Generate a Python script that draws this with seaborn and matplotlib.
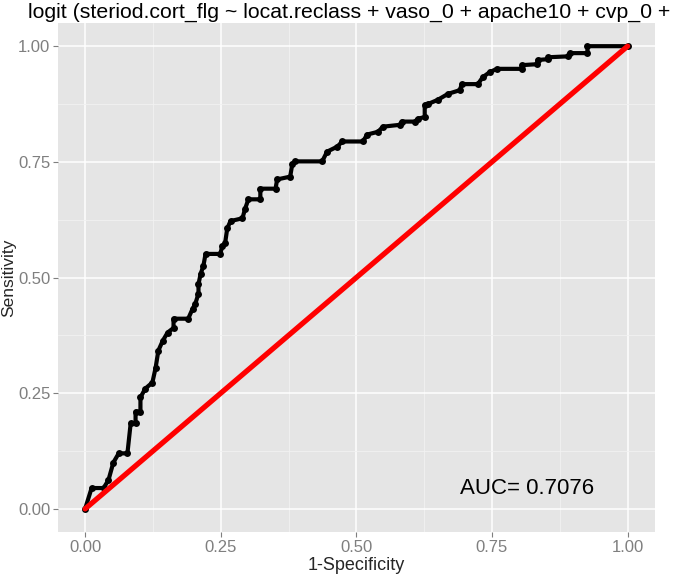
#ROC curve - logistic model for steroid use

import pandas as pd
import matplotlib.pyplot as plt
import seaborn as sns

sns.set_theme(style="darkgrid")
plt.rcParams.update({"font.family": ["Liberation Sans", "DejaVu Sans"]})

#DATA
fpr = [0, 0.012, 0.034, 0.043, 0.052, 0.062, 0.078, 0.084, 0.093, 0.093, 0.102, 0.102, 0.111, 0.124,
       0.130, 0.135, 0.143, 0.152, 0.163, 0.163, 0.190, 0.198, 0.203, 0.209, 0.209, 0.213, 0.218, 0.222,
       0.249, 0.253, 0.258, 0.262, 0.268, 0.290, 0.295, 0.301, 0.323, 0.323, 0.351, 0.354, 0.378, 0.382,
       0.387, 0.437, 0.446, 0.465, 0.474, 0.512, 0.520, 0.540, 0.549, 0.580, 0.584, 0.608, 0.613, 0.626,
       0.626, 0.632, 0.650, 0.669, 0.691, 0.694, 0.724, 0.733, 0.746, 0.759, 0.805, 0.805, 0.833, 0.834,
       0.853, 0.853, 0.890, 0.893, 0.926, 0.926, 1.0]
tpr = [0, 0.045, 0.045, 0.062, 0.10, 0.12, 0.12, 0.185, 0.185, 0.21, 0.21, 0.241, 0.260, 0.273,
       0.305, 0.342, 0.363, 0.381, 0.391, 0.411, 0.411, 0.432, 0.443, 0.465, 0.486, 0.508, 0.525, 0.551,
       0.551, 0.568, 0.574, 0.606, 0.622, 0.628, 0.649, 0.669, 0.669, 0.692, 0.692, 0.712, 0.718, 0.746,
       0.751, 0.751, 0.772, 0.783, 0.794, 0.794, 0.809, 0.815, 0.826, 0.830, 0.837, 0.837, 0.843, 0.847,
       0.873, 0.875, 0.884, 0.897, 0.905, 0.918, 0.918, 0.933, 0.944, 0.951, 0.951, 0.959, 0.961, 0.970,
       0.972, 0.976, 0.978, 0.985, 0.985, 1.0, 1.0]
diag = [0, 1]
ticks = [0, 0.25, 0.5, 0.75, 1.0]
tick_labels = ["0.00", "0.25", "0.50", "0.75", "1.00"]
auc = 0.7076
title = "logit (steriod.cort_flg ~ locat.reclass + vaso_0 + apache10 + cvp_0 +"

roc = pd.DataFrame({"fpr": fpr, "tpr": tpr})

fig = plt.figure(figsize=(6.75, 5.76), dpi=100)
ax = fig.add_axes([0.0859, 0.0764, 0.8841, 0.8836])
ax.set_facecolor("#E5E5E5")

#ROC curve
sns.lineplot(data=roc, x="fpr", y="tpr", sort=False, estimator=None, ax=ax, color="black",
             linewidth=3.0, marker="o", markersize=5, markeredgewidth=0, zorder=3)

#reference diagonal
sns.lineplot(x=diag, y=diag, ax=ax, color="red", linewidth=3.8, zorder=4)

ax.text(0.815, 0.045, f"AUC= {auc}", ha="center", va="center", fontsize=16, color="black")

ax.set_xlim(-0.05, 1.05)
ax.set_ylim(-0.05, 1.05)
ax.set_xticks(ticks)
ax.set_xticklabels(tick_labels)
ax.set_yticks(ticks)
ax.set_yticklabels(tick_labels)
ax.set_xticks([0.125, 0.375, 0.625, 0.875], minor=True)
ax.set_yticks([0.125, 0.375, 0.625, 0.875], minor=True)
ax.grid(which="major", color="white", linewidth=1.1)
ax.grid(which="minor", color="#F2F2F2", linewidth=0.6)
ax.tick_params(which="major", length=3.5, width=0.8, color="#7F7F7F", labelcolor="#7F7F7F", labelsize=12, pad=2)
ax.tick_params(which="minor", length=0)
ax.tick_params(axis="both", which="major", bottom=True, left=True)
for s in ax.spines.values():
    s.set_visible(False)

ax.set_xlabel("1-Specificity", fontsize=13, labelpad=2)
ax.set_ylabel("Sensitivity", fontsize=12.5, labelpad=1)

fig.text(28 / 675, 1 - 12 / 576, title, ha="left", va="center", fontsize=15.3, color="black")

plt.savefig("out.png", dpi=100)
plt.close()
